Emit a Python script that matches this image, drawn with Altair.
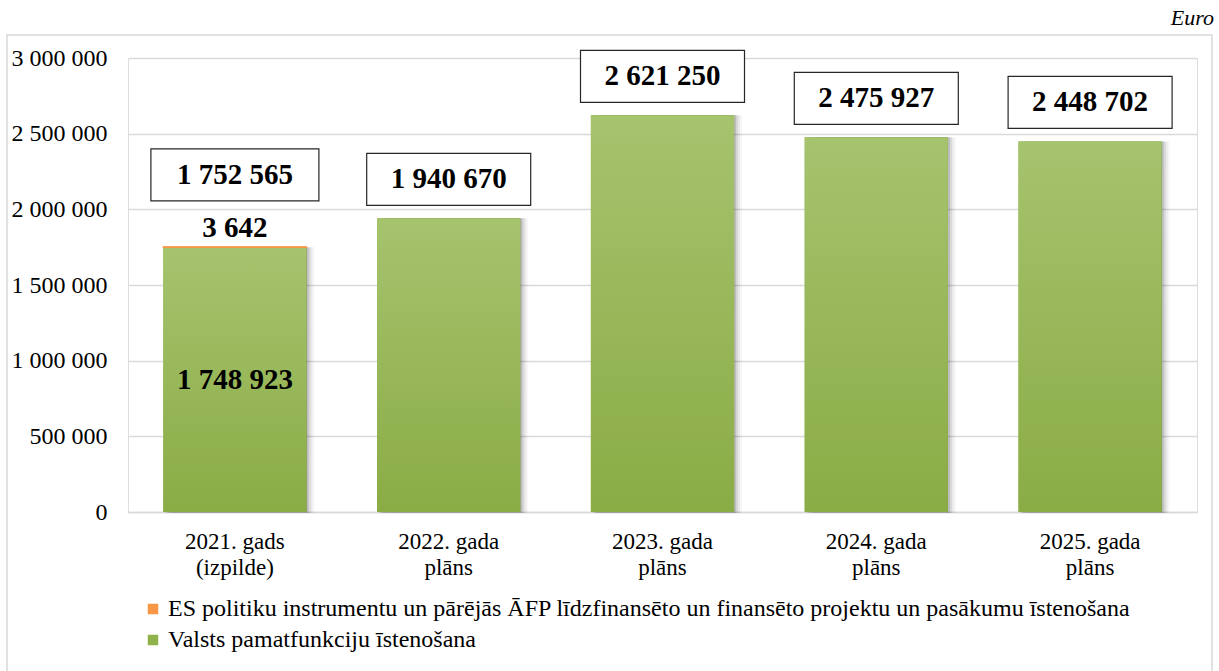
import altair as alt
import pandas as pd

categories = ["2021. gads (izpilde)", "2022. gada plāns", "2023. gada plāns",
              "2024. gada plāns", "2025. gada plāns"]
series_es = "ES politiku instrumentu un pārējās ĀFP līdzfinansēto un finansēto projektu un pasākumu īstenošana"
series_valsts = "Valsts pamatfunkciju īstenošana"
valsts_values = [1748923, 1940670, 2621250, 2475927, 2448702]
es_values = [3642, 0, 0, 0, 0]
y_ticks = [0, 500000, 1000000, 1500000, 2000000, 2500000, 3000000]

FONT = "Liberation Serif, Times New Roman, serif"
ORANGE = "#F79646"
GREEN = "#8FB24A"

wide = pd.DataFrame({
    "cat": categories,
    "valsts": valsts_values,
    "es": es_values,
})
wide["total"] = wide["valsts"] + wide["es"]

long = pd.concat([
    pd.DataFrame({"cat": categories, "series": series_valsts, "value": valsts_values, "ord": 1}),
    pd.DataFrame({"cat": categories, "series": series_es, "value": es_values, "ord": 2}),
])

fmt = "replace(format({f}, ',d'), regexp(',', 'g'), ' ')"

x_enc = alt.X("cat:N", sort=categories, title=None,
              scale=alt.Scale(paddingInner=0.33, paddingOuter=0.165),
              axis=alt.Axis(labelExpr="[substring(datum.label, 0, lastindexof(datum.label, ' ')), substring(datum.label, lastindexof(datum.label, ' ') + 1)]",
                            labelFont=FONT, labelFontSize=23, labelColor="#000000",
                            labelLineHeight=26, labelPadding=18, labelAngle=0,
                            ticks=False, domain=True, domainColor="#d9d9d9",
                            domainWidth=1.5, grid=False))

base = alt.Chart(wide)

border = base.mark_rect(fill=None, fillOpacity=0, stroke="#d9d9d9", strokeWidth=1.5).encode(
    x=alt.value(-121), x2=alt.value(1084), y=alt.value(-23), y2=alt.value(625)
).transform_filter("datum.cat == '%s'" % categories[0])

euro = base.mark_text(text="Euro", font=FONT, fontSize=22, fontStyle="italic",
                      align="right", baseline="alphabetic", color="#000").encode(
    x=alt.value(1086), y=alt.value(-33)
).transform_filter("datum.cat == '%s'" % categories[0])

y_scale = alt.Scale(domain=[0, 3000000])

stack = alt.Chart(long).mark_bar(strokeWidth=0).encode(
    x=x_enc,
    y=alt.Y("sum(value):Q", stack="zero", scale=y_scale, title=None,
            axis=alt.Axis(values=y_ticks, labelExpr=fmt.format(f="datum.value"),
                          labelFont=FONT, labelFontSize=24, labelColor="#000",
                          labelPadding=21, ticks=False, domain=False,
                          gridColor="#d9d9d9", gridWidth=1.5)),
    color=alt.Color("series:N",
                    scale=alt.Scale(domain=[series_es, series_valsts], range=[ORANGE, GREEN]),
                    legend=alt.Legend(title=None, orient="none", legendX=13, legendY=539,
                                      direction="vertical", symbolType="square",
                                      symbolSize=110, symbolStrokeWidth=0,
                                      labelFont=FONT, labelFontSize=24, labelColor="#000",
                                      labelLimit=1200, rowPadding=7, labelOffset=3)),
    order=alt.Order("ord:Q"),
)

shadows = []
for off, op in [(2, 0.12), (4, 0.08), (6, 0.05), (8, 0.03)]:
    shadows.append(base.mark_bar(fill="#000000", opacity=op, xOffset=off, y2Offset=1).encode(
        x=x_enc, y=alt.Y("valsts:Q", scale=y_scale), y2=alt.datum(0)))

grad = alt.Gradient(gradient="linear", x1=0, x2=0, y1=0, y2=1,
                    stops=[alt.GradientStop(color="#A6C36E", offset=0),
                           alt.GradientStop(color="#8AAC45", offset=1)])

green = base.mark_bar(fill=grad).encode(
    x=x_enc, y=alt.Y("valsts:Q", scale=y_scale), y2=alt.datum(0))

orange = base.mark_bar(fill=ORANGE, stroke=ORANGE, strokeWidth=1.2).encode(
    x=x_enc, y=alt.Y("total:Q", scale=y_scale), y2="valsts:Q"
).transform_filter("datum.es > 0")

boxes_first = base.mark_bar(width=168, fill="white", stroke="#262626", strokeWidth=1.2,
                            yOffset=-98, y2Offset=-46).encode(
    x=x_enc, y=alt.Y("total:Q", scale=y_scale), y2="total:Q"
).transform_filter("datum.es > 0")

boxes_rest = base.mark_bar(width=164, fill="white", stroke="#262626", strokeWidth=1.2,
                           yOffset=-65, y2Offset=-13).encode(
    x=x_enc, y=alt.Y("total:Q", scale=y_scale), y2="total:Q"
).transform_filter("datum.es == 0")

txt_props = dict(font=FONT, fontSize=29, fontWeight="bold", color="#000", baseline="middle")

total_first = base.mark_text(dy=-72, **txt_props).encode(
    x=x_enc, y=alt.Y("total:Q", scale=y_scale), text="lab:N"
).transform_filter("datum.es > 0").transform_calculate(lab=fmt.format(f="datum.total"))

total_rest = base.mark_text(dy=-39, **txt_props).encode(
    x=x_enc, y=alt.Y("total:Q", scale=y_scale), text="lab:N"
).transform_filter("datum.es == 0").transform_calculate(lab=fmt.format(f="datum.total"))

es_label = base.mark_text(dy=-19, **txt_props).encode(
    x=x_enc, y=alt.Y("total:Q", scale=y_scale), text="lab:N"
).transform_filter("datum.es > 0").transform_calculate(lab=fmt.format(f="datum.es"))

valsts_label = base.mark_text(**txt_props).encode(
    x=x_enc, y=alt.Y("mid:Q", scale=y_scale), text="lab:N"
).transform_filter("datum.es > 0").transform_calculate(
    lab=fmt.format(f="datum.valsts"), mid="datum.valsts / 2")

chart = alt.layer(
    border, euro, stack, *shadows, green, orange,
    boxes_first, boxes_rest, total_first, total_rest, es_label, valsts_label
).properties(
    width=1069, height=454,
    autosize=alt.AutoSizeParams(type="none"),
    padding={"left": 128, "top": 58, "right": 22, "bottom": 159},
).configure_view(stroke=None).configure(background="white", font=FONT)

chart.save("out.html", embed_options={"renderer": "svg", "actions": False})
